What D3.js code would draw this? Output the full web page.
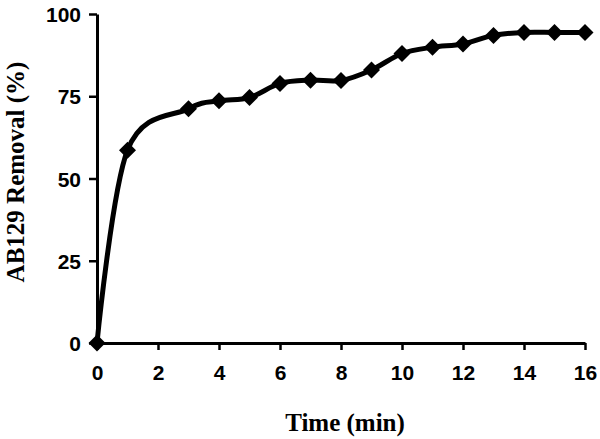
<!DOCTYPE html>
<html>
<head>
<meta charset="utf-8">
<script src="https://cdn.jsdelivr.net/npm/d3@7"></script>
<style>
  body { margin: 0; background: #fff; }
  .tick text { font-family: "Liberation Sans", Arial, sans-serif; font-weight: bold; font-size: 21px; }
  .axisTitle { font-family: "Liberation Serif", "Times New Roman", serif; font-weight: bold; font-size: 25px; }
</style>
</head>
<body>
<div class="chart"></div>
<script>
// Chart data
var times = [0, 1, 3, 4, 5, 6, 7, 8, 9, 10, 11, 12, 13, 14, 15, 16];
var removal = [0, 58.6, 71.2, 73.6, 74.6, 78.9, 79.9, 79.8, 83.0, 88.0, 89.9, 90.9, 93.5, 94.4, 94.4, 94.4];
var xTicks = [0, 2, 4, 6, 8, 10, 12, 14, 16];
var yTicks = [0, 25, 50, 75, 100];

var svgWidth = 600;
var svgHeight = 439;
var margin = {top: 14, right: 15, bottom: 96, left: 97};
var width = svgWidth - margin.left - margin.right;
var height = svgHeight - margin.top - margin.bottom;

var svg = d3.select(".chart")
    .append("svg")
    .attr("width", svgWidth)
    .attr("height", svgHeight);

var chartGroup = svg.append("g")
    .attr("transform", "translate(" + margin.left + "," + margin.top + ")");

var xScale = d3.scaleLinear().domain([0, 16]).range([0, width]);
var yScale = d3.scaleLinear().domain([0, 100]).range([height, 0]);

var bottomAxis = d3.axisBottom(xScale).tickValues(xTicks).tickSize(7).tickPadding(15).tickSizeOuter(0);
var leftAxis = d3.axisLeft(yScale).tickValues(yTicks).tickSize(8).tickPadding(8).tickSizeOuter(0);

var xAxisG = chartGroup.append("g")
    .attr("transform", `translate(0, ${height})`)
    .call(bottomAxis);
var yAxisG = chartGroup.append("g").call(leftAxis);

[xAxisG, yAxisG].forEach(function(g) {
    g.select(".domain").attr("stroke", "#000").attr("stroke-width", 3);
    g.selectAll(".tick line").attr("stroke", "#000").attr("stroke-width", 2.5);
    g.selectAll(".tick text").attr("fill", "#000");
});
yAxisG.selectAll(".tick text").attr("dy", "0.36em");

var data = times.map((t, i) => ({t: t, v: removal[i]}));

// smoothed line
var line = d3.line()
    .x(d => xScale(d.t))
    .y(d => yScale(d.v))
    .curve(d3.curveCardinal);

chartGroup.append("path")
    .datum(data)
    .attr("fill", "none")
    .attr("stroke", "#000")
    .attr("stroke-width", 5)
    .attr("stroke-linejoin", "round")
    .attr("d", line);

// diamond markers
var r = 8.5;
chartGroup.selectAll(".marker")
    .data(data)
    .enter()
    .append("path")
    .attr("class", "marker")
    .attr("transform", d => `translate(${xScale(d.t)},${yScale(d.v)})`)
    .attr("d", `M0,${-r}L${r},0L0,${r}L${-r},0Z`)
    .attr("fill", "#000");

// axis titles
svg.append("text")
    .attr("class", "axisTitle")
    .attr("text-anchor", "middle")
    .attr("x", 345)
    .attr("y", 431)
    .text("Time (min)");

svg.append("text")
    .attr("class", "axisTitle")
    .attr("text-anchor", "middle")
    .attr("transform", "translate(24, 172) rotate(-90)")
    .text("AB129 Removal (%)");
</script>
</body>
</html>
